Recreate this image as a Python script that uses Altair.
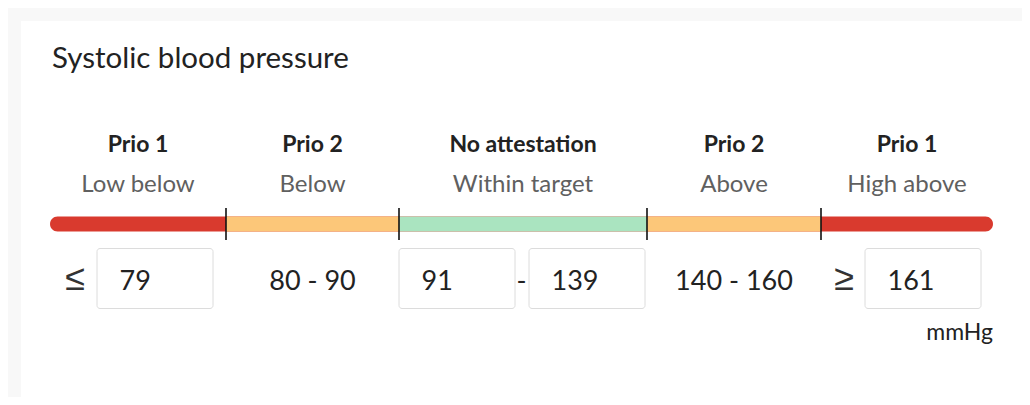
import altair as alt
import pandas as pd

# ---------------- data ----------------
TITLE = "Systolic blood pressure"
UNIT = "mmHg"
priorities = ["Prio 1", "Prio 2", "No attestation", "Prio 2", "Prio 1"]
zones = ["Low below", "Below", "Within target", "Above", "High above"]
low_limit = 79
below_range = (80, 90)
target_range = (91, 139)
above_range = (140, 160)
high_limit = 161

# ---------------- layout / style (page pixels) ----------------
zone_colors = ["#d93a2e", "#fcc779", "#aae4c0", "#fcc779", "#d93a2e"]
edges = [50, 226, 399, 647, 821, 993]
FONT = "Lato"
BAR_Y = (216.5, 231.5)
TICK_Y = (208, 240)
BOX_Y = (248.5, 308.5)
BOX_W = 116
ROW_BASE = 290

xs = alt.Scale(domain=[8, 1022], nice=False, zero=False)
ys = alt.Scale(domain=[8, 397], reverse=True, nice=False, zero=False)


def X(f="x"):
    return alt.X(f"{f}:Q", scale=xs, axis=None)


def Y(f="y"):
    return alt.Y(f"{f}:Q", scale=ys, axis=None)


centers = [(edges[i] + edges[i + 1]) / 2 for i in range(5)]

# background card
bg = pd.DataFrame([
    {"x": 8, "x2": 1022, "y": 8, "y2": 397, "c": "#f8f8f8"},
    {"x": 21, "x2": 1024, "y": 21, "y2": 397, "c": "#ffffff"},
])
bg_layer = alt.Chart(bg).mark_rect().encode(
    x=X(), x2="x2:Q", y=Y(), y2="y2:Q",
    color=alt.Color("c:N", scale=None, legend=None))

# title
title_layer = alt.Chart(pd.DataFrame([{"x": 52, "y": 68, "t": TITLE}])).mark_text(
    align="left", baseline="alphabetic", font=FONT, fontSize=29.5, color="#222222"
).encode(x=X(), y=Y(), text="t:N")

# labels
lab = pd.DataFrame({"x": centers, "p": priorities, "z": zones})
prio_layer = alt.Chart(lab).mark_text(
    align="center", baseline="alphabetic", font=FONT, fontSize=23,
    fontWeight="bold", color="#222222"
).encode(x=X(), y=alt.value(152 - 8), text="p:N")
zone_layer = alt.Chart(lab).mark_text(
    align="center", baseline="alphabetic", font=FONT, fontSize=24,
    color="#606060"
).encode(x=X(), y=alt.value(192 - 8), text="z:N")

# bar: rounded red full bar + middle segments
full = pd.DataFrame([{"x": edges[0], "x2": edges[-1], "y": BAR_Y[0], "y2": BAR_Y[1],
                      "c": zone_colors[0]}])
full_layer = alt.Chart(full).mark_rect(cornerRadius=7.5).encode(
    x=X(), x2="x2:Q", y=Y(), y2="y2:Q", color=alt.Color("c:N", scale=None, legend=None))
mid = pd.DataFrame({"x": edges[1:4], "x2": edges[2:5], "y": BAR_Y[0], "y2": BAR_Y[1],
                    "c": zone_colors[1:4]})
mid_layer = alt.Chart(mid).mark_rect().encode(
    x=X(), x2="x2:Q", y=Y(), y2="y2:Q", color=alt.Color("c:N", scale=None, legend=None))

ticks = pd.DataFrame({"x": edges[1:5], "y": TICK_Y[0], "y2": TICK_Y[1]})
tick_layer = alt.Chart(ticks).mark_rule(color="#111111", strokeWidth=1.6).encode(
    x=X(), y=Y(), y2="y2:Q")

# input boxes
boxes = pd.DataFrame({
    "x": [97, edges[2], 529, 865],
    "v": [str(low_limit), str(target_range[0]), str(target_range[1]), str(high_limit)],
})
boxes["x2"] = boxes["x"] + BOX_W
boxes["y"] = BOX_Y[0]
boxes["y2"] = BOX_Y[1]
boxes["tx"] = boxes["x"] + 22.5
box_layer = alt.Chart(boxes).mark_rect(
    fill="#ffffff", stroke="#dcdcdc", strokeWidth=1, cornerRadius=3
).encode(x=X(), x2="x2:Q", y=Y(), y2="y2:Q")
box_text = alt.Chart(boxes).mark_text(
    align="left", baseline="alphabetic", font=FONT, fontSize=27, color="#222222"
).encode(x=X("tx"), y=alt.value(ROW_BASE - 8), text="v:N")

plain = pd.DataFrame({
    "x": [centers[1], centers[3], 521.5],
    "t": [f"{below_range[0]} - {below_range[1]}", f"{above_range[0]} - {above_range[1]}", "-"],
})
plain_layer = alt.Chart(plain).mark_text(
    align="center", baseline="alphabetic", font=FONT, fontSize=27, color="#222222"
).encode(x=X(), y=alt.value(ROW_BASE - 8), text="t:N")

signs = pd.DataFrame({"x": [75, 844], "t": ["≤", "≥"]})
sign_layer = alt.Chart(signs).mark_text(
    align="center", baseline="alphabetic", font="Liberation Sans", fontSize=36,
    fontWeight="normal", color="#333333"
).encode(x=X(), y=alt.value(ROW_BASE - 8), text="t:N")

unit_layer = alt.Chart(pd.DataFrame([{"x": 993, "t": UNIT}])).mark_text(
    align="right", baseline="alphabetic", font=FONT, fontSize=23, color="#222222"
).encode(x=X(), y=alt.value(340 - 8), text="t:N")

chart = alt.layer(
    bg_layer, title_layer, prio_layer, zone_layer, full_layer, mid_layer, tick_layer,
    box_layer, box_text, plain_layer, sign_layer, unit_layer
).properties(width=1014, height=389, padding=0, autosize="none").configure_view(stroke=None)

chart.save("out.html", embed_options={"renderer": "svg", "actions": False})
